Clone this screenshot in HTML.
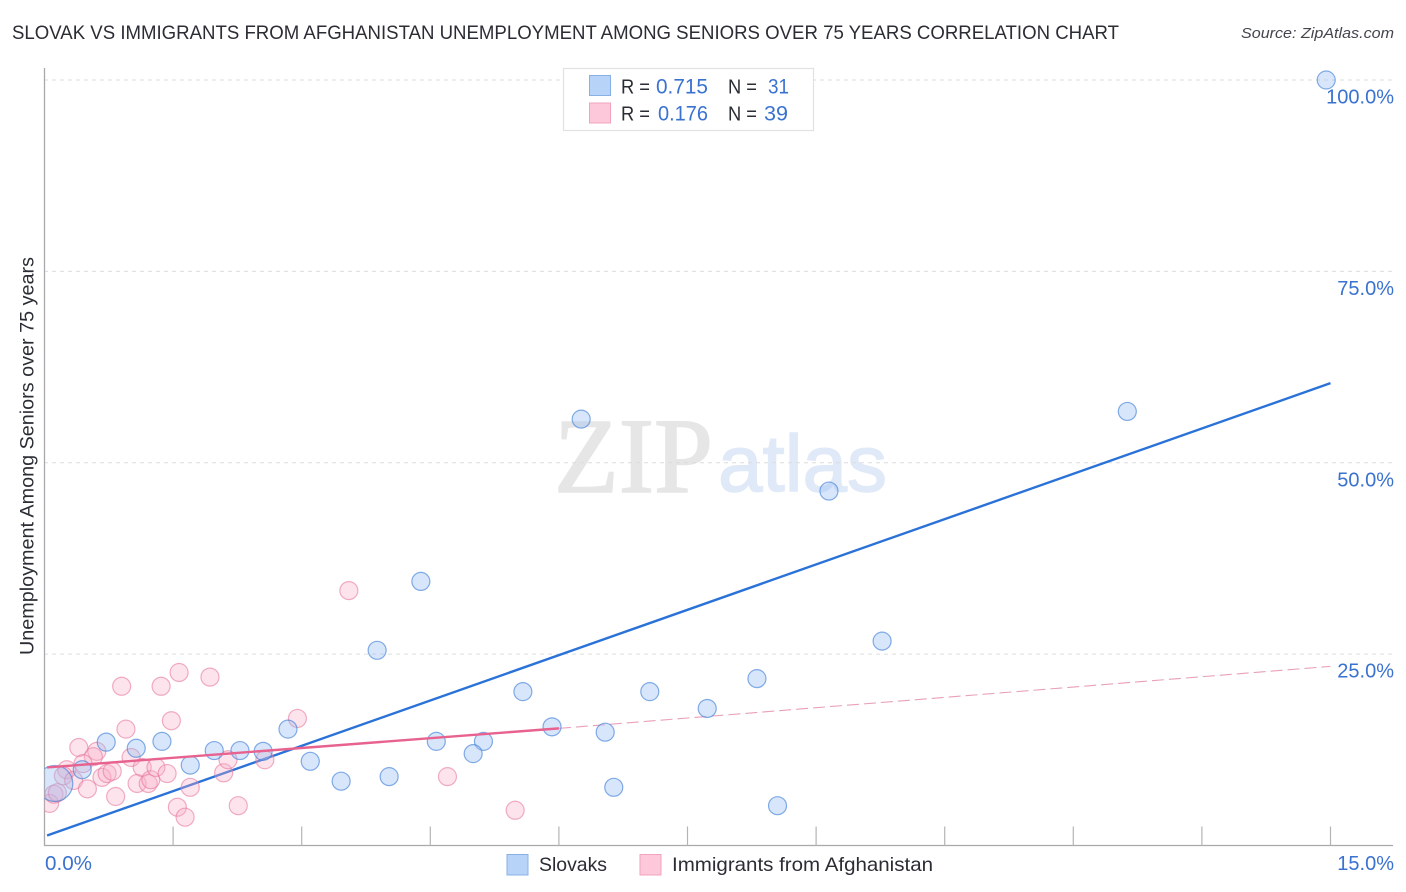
<!DOCTYPE html>
<html lang="en">
<head>
<meta charset="utf-8">
<title>Slovak vs Immigrants from Afghanistan Correlation Chart</title>
<style>
html,body{margin:0;padding:0;background:#fff;width:1406px;height:892px;overflow:hidden}
svg{display:block;font-family:"Liberation Sans",sans-serif}
</style>
</head>
<body>
<svg id="chart" width="1406" height="892" viewBox="0 0 1406 892" xmlns="http://www.w3.org/2000/svg">
  <defs>
    <clipPath id="plot-clip"><rect x="44.5" y="60" width="1350" height="786"/></clipPath>
  </defs>
  <rect x="0" y="0" width="1406" height="892" fill="#ffffff"/>
  <text x="12" y="39" font-size="19.5" fill="#2b2d35" textLength="1107" lengthAdjust="spacingAndGlyphs">SLOVAK VS IMMIGRANTS FROM AFGHANISTAN UNEMPLOYMENT AMONG SENIORS OVER 75 YEARS CORRELATION CHART</text>
  <text x="1394" y="38" font-size="15" font-style="italic" fill="#44464e" text-anchor="end" textLength="153" lengthAdjust="spacingAndGlyphs">Source: ZipAtlas.com</text>
  <g id="watermark">
    <text x="554" y="492" font-family="'Liberation Serif',serif" font-size="107" fill="#e6e6e7" stroke="#e6e6e7" stroke-width="1.6" textLength="159" lengthAdjust="spacingAndGlyphs">ZIP</text>
    <text x="718" y="491" font-size="80" fill="#dfe9f8" stroke="#dfe9f8" stroke-width="1.4" textLength="169" lengthAdjust="spacingAndGlyphs">atlas</text>
  </g>
  <g id="grid"></g>
  <g id="axes"></g>
  <g id="trends"></g>
  <g id="points" clip-path="url(#plot-clip)"></g>
  <g id="tick-labels"></g>
  <text transform="translate(33.5,456) rotate(-90)" font-size="19" fill="#2b2d35" text-anchor="middle" textLength="398" lengthAdjust="spacingAndGlyphs">Unemployment Among Seniors over 75 years</text>

  <g>
    <rect x="563.5" y="68.5" width="250" height="62" fill="#ffffff" stroke="#e2e2e4" stroke-width="1.2"/>
    <rect x="589.5" y="75.5" width="21" height="20" fill="#b8d3f8" stroke="#88b0e6" stroke-width="1"/>
    <rect x="589.5" y="103" width="21" height="20" fill="#fdc8da" stroke="#f3a3bd" stroke-width="1"/>
    <text x="621" y="93.5" font-size="20" fill="#2b2d35" textLength="29" lengthAdjust="spacingAndGlyphs">R =</text>
    <text x="656" y="93.5" font-size="21.5" fill="#3a72d0" textLength="52" lengthAdjust="spacingAndGlyphs">0.715</text>
    <text x="728" y="93.5" font-size="20" fill="#2b2d35" textLength="29" lengthAdjust="spacingAndGlyphs">N =</text>
    <text x="768" y="93.5" font-size="21.5" fill="#3a72d0" textLength="21" lengthAdjust="spacingAndGlyphs">31</text>
    <text x="621" y="120.5" font-size="20" fill="#2b2d35" textLength="29" lengthAdjust="spacingAndGlyphs">R =</text>
    <text x="658" y="120.5" font-size="21.5" fill="#3a72d0" textLength="50" lengthAdjust="spacingAndGlyphs">0.176</text>
    <text x="728" y="120.5" font-size="20" fill="#2b2d35" textLength="29" lengthAdjust="spacingAndGlyphs">N =</text>
    <text x="764" y="120.5" font-size="21.5" fill="#3a72d0" textLength="24" lengthAdjust="spacingAndGlyphs">39</text>
  </g>

  <g>
    <rect x="507" y="854.5" width="21" height="20.5" fill="#b8d3f8" stroke="#88b0e6" stroke-width="1"/>
    <text x="539" y="871" font-size="19.5" fill="#2b2d35" textLength="68" lengthAdjust="spacingAndGlyphs">Slovaks</text>
    <rect x="640" y="854.5" width="21" height="20.5" fill="#fdc8da" stroke="#f3a3bd" stroke-width="1"/>
    <text x="672" y="871" font-size="19.5" fill="#2b2d35" textLength="261" lengthAdjust="spacingAndGlyphs">Immigrants from Afghanistan</text>
  </g>
</svg>
<script>
const xTickValues = [0, 1.5, 3, 4.5, 6, 7.5, 9, 10.5, 12, 13.5, 15];
const yGridValues = [25, 50, 75, 100];
const yTickLabels = ["25.0%", "50.0%", "75.0%", "100.0%"];
const xEndLabels = ["0.0%", "15.0%"];

const slovakX = [14.95, 12.63, 6.26, 9.15, 4.39, 9.77, 3.88, 8.31, 5.58, 7.06, 7.73, 5.92, 2.84, 6.54, 1.37, 0.72, 4.57, 5.12, 1.07, 1.98, 2.28, 2.55, 5.0, 3.10, 1.70, 0.44, 3.46, 4.02, 6.64, 8.55, 0.12];
const slovakY = [100, 56.7, 55.7, 46.3, 34.5, 26.7, 25.5, 21.8, 20.1, 20.1, 17.9, 15.5, 15.2, 14.8, 13.6, 13.5, 13.6, 13.6, 12.7, 12.4, 12.4, 12.3, 12.0, 11.0, 10.5, 9.9, 8.4, 9.0, 7.6, 5.2, 8.1];
const slovakWeight = [1, 1, 1, 1, 1, 1, 1, 1, 1, 1, 1, 1, 1, 1, 1, 1, 1, 1, 1, 1, 1, 1, 1, 1, 1, 1, 1, 1, 1, 1, 4];

const afghanX = [0.90, 1.36, 1.57, 1.93, 1.48, 2.95, 0.95, 0.40, 0.61, 0.57, 0.45, 1.01, 0.26, 0.22, 0.34, 0.50, 0.06, 0.11, 0.15, 0.83, 0.67, 0.73, 0.79, 1.08, 1.14, 1.21, 1.24, 1.30, 1.43, 1.70, 1.55, 1.64, 2.26, 2.09, 2.14, 2.57, 3.55, 4.70, 5.49];
const afghanY = [20.8, 20.8, 22.6, 22.0, 16.3, 16.6, 15.2, 12.8, 12.3, 11.6, 10.7, 11.5, 9.9, 9.1, 8.5, 7.4, 5.5, 6.7, 6.9, 6.4, 8.9, 9.4, 9.7, 8.1, 10.2, 8.1, 8.6, 10.2, 9.4, 7.6, 5.0, 3.7, 5.2, 9.5, 11.2, 11.2, 33.3, 9.0, 4.6];

const slovakTrendX = [0.03, 15];
const slovakTrendY = [1.3, 60.4];
const afghanSolidX = [0.03, 6];
const afghanSolidY = [10.2, 15.3];
const afghanDashX = [6, 15];
const afghanDashY = [15.3, 23.4];

const svgNS = 'http://www.w3.org/2000/svg';
function xScale(v) { return 44.5 + v * (1286 / 15); }
function yScale(v) { return 845.5 - v * 7.655; }
function make(tag, parentId, attrs) {
  const el = document.createElementNS(svgNS, tag);
  Object.keys(attrs).forEach(function (k) { el.setAttribute(k, attrs[k]); });
  document.getElementById(parentId).appendChild(el);
  return el;
}

yGridValues.forEach(function (v) {
  const el = make('line', 'grid', { x1: 44, x2: 1393, y1: yScale(v), y2: yScale(v), stroke: '#dcdcde', 'stroke-width': 1, 'stroke-dasharray': '4 4' });
  
  
});

const yAxisLine = make('line', 'axes', { x1: xScale(0), x2: xScale(0), y1: 68, y2: yScale(0), stroke: '#a9a9ab', 'stroke-width': 1.3 });


const xAxisLine = make('line', 'axes', { x1: 44, x2: 1393, y1: yScale(0), y2: yScale(0), stroke: '#a9a9ab', 'stroke-width': 1.3 });


xTickValues.slice(1).forEach(function (v) {
  const el = make('line', 'axes', { x1: xScale(v), x2: xScale(v), y1: yScale(0) - 19, y2: yScale(0), stroke: '#b4b4b6', 'stroke-width': 1.2 });
  
  
});

const slovakLine = make('line', 'trends', { x1: xScale(slovakTrendX[0]), y1: yScale(slovakTrendY[0]), x2: xScale(slovakTrendX[1]), y2: yScale(slovakTrendY[1]), stroke: '#2a72d8', 'stroke-width': 2.4 });


const afghanDash = make('line', 'trends', { x1: xScale(afghanDashX[0]), y1: yScale(afghanDashY[0]), x2: xScale(afghanDashX[1]), y2: yScale(afghanDashY[1]), stroke: '#e9a0ba', 'stroke-width': 1.1, 'stroke-dasharray': '12 5' });



afghanX.forEach(function (v, i) {
  const el = make('circle', 'points', { cx: xScale(v), cy: yScale(afghanY[i]), r: 9, fill: 'rgba(248,170,195,0.32)', stroke: 'rgba(232,120,160,0.6)', 'stroke-width': 1.2 });
  
  
});
slovakX.forEach(function (v, i) {
  const el = make('circle', 'points', { cx: xScale(v), cy: yScale(slovakY[i]), r: 9 * Math.sqrt(slovakWeight[i]), fill: 'rgba(150,190,242,0.38)', stroke: 'rgba(60,125,215,0.62)', 'stroke-width': 1.2 });
  
  
});

const afghanLine = make('line', 'points', { x1: xScale(afghanSolidX[0]), y1: yScale(afghanSolidY[0]), x2: xScale(afghanSolidX[1]), y2: yScale(afghanSolidY[1]), stroke: '#e8628f', 'stroke-width': 2.4 });



yGridValues.forEach(function (v, i) {
  const el = make('text', 'tick-labels', { x: 1394, y: yScale(v) + 23.5, 'font-size': 20, fill: '#3a72d0', 'text-anchor': 'end' });
  el.textContent = yTickLabels[i];
  
  
});
const xStart = make('text', 'tick-labels', { x: 45, y: 870, 'font-size': 20, fill: '#3a72d0', textLength: 47, lengthAdjust: 'spacingAndGlyphs' });
xStart.textContent = xEndLabels[0];


const xEnd = make('text', 'tick-labels', { x: 1394, y: 870, 'font-size': 20, fill: '#3a72d0', 'text-anchor': 'end' });
xEnd.textContent = xEndLabels[1];


</script>
</body>
</html>
